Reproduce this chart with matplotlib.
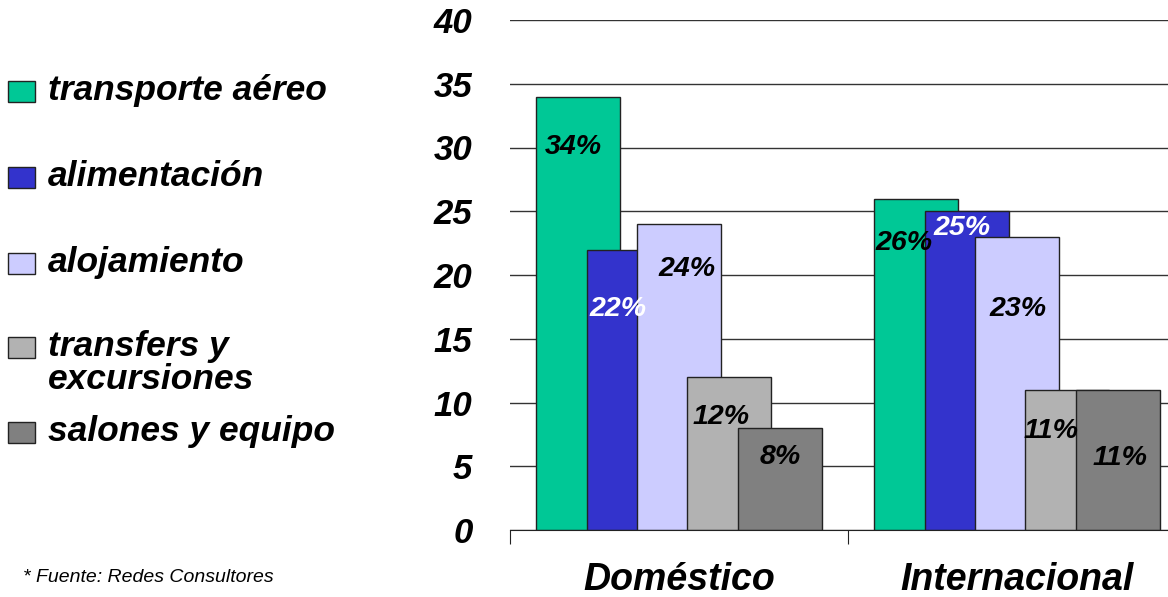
import numpy as np
import matplotlib
matplotlib.use('Agg')
from matplotlib import pyplot as plt
from matplotlib.patches import Rectangle

plt.rcParams['font.family'] = ['Liberation Sans', 'DejaVu Sans']

# datos
categorias = ['Doméstico', 'Internacional']
series = ['transporte aéreo', 'alimentación', 'alojamiento',
          'transfers y\nexcursiones', 'salones y equipo']
transporte_aereo = [34, 26]
alimentacion = [22, 25]
alojamiento = [24, 23]
transfers = [12, 11]
salones = [8, 11]
valores = [transporte_aereo, alimentacion, alojamiento, transfers, salones]
etiquetas = [['34%', '26%'], ['22%', '25%'], ['24%', '23%'], ['12%', '11%'], ['8%', '11%']]
fuente = '* Fuente: Redes Consultores'

colores = ['#00C896', '#3333CC', '#CCCCFF', '#B2B2B2', '#808080']
color_texto = ['black', 'white', 'black', 'black', 'black']
# ajuste de la posicion de cada etiqueta (x en categorias, y en valor)
nudge_x = [[-0.015, -0.036], [-0.030, -0.015], [0.024, 0.003], [-0.024, -0.047], [0.003, 0.006]]
nudge_y = [[-4.0, -3.5], [-4.7, -1.3], [-3.5, -5.7], [-3.1, -3.2], [-2.3, -5.35]]

W, H = 1168, 597
fig = plt.figure(figsize=(W / 100, H / 100), dpi=100, facecolor='w')
ax = fig.add_axes([510 / W, 67 / H, 676 / W, 510 / H])

x = np.arange(len(categorias))
paso = 0.149
ancho = 0.248
for i, vals in enumerate(valores):
    pos = x + (i - 2) * paso
    ax.bar(pos, vals, ancho, color=colores[i], edgecolor='#222222',
           linewidth=1, zorder=2 + i)
    for j, v in enumerate(vals):
        ax.text(pos[j] + nudge_x[i][j], v + nudge_y[i][j], etiquetas[i][j],
                ha='center', va='center', fontsize=20.5, fontweight='bold',
                fontstyle='italic', color=color_texto[i], zorder=20)

ax.set_xlim(-0.5, 1.5)
ax.set_ylim(0, 40)
ax.set_yticks(range(0, 41, 5))
ax.yaxis.grid(True, color='#333333', linewidth=1)
ax.set_axisbelow(True)
ax.tick_params(axis='y', length=0, pad=27)
for lab in ax.get_yticklabels():
    lab.set_fontsize(25)
    lab.set_fontweight('bold')
    lab.set_fontstyle('italic')

for s in ['left', 'top', 'right']:
    ax.spines[s].set_visible(False)
ax.spines['bottom'].set_color('#222222')
ax.spines['bottom'].set_zorder(10)

ax.set_xticks([-0.5, 0.5, 1.5])
ax.set_xticklabels([])
ax.tick_params(axis='x', which='major', length=10, color='#222222')
ax.set_xticks(x, minor=True)
ax.set_xticklabels(categorias, minor=True, fontsize=27, fontweight='bold',
                   fontstyle='italic')
ax.tick_params(axis='x', which='minor', length=0, pad=23)

# leyenda dibujada a mano a la izquierda
filas_y = [91, 177, 263, 347, 432]
for i, nombre in enumerate(series):
    yc = filas_y[i]
    fig.add_artist(Rectangle((8 / W, 1 - (yc + 11) / H), 27 / W, 21 / H,
                             transform=fig.transFigure, facecolor=colores[i],
                             edgecolor='#222222', linewidth=1))
    fig.text(48 / W, 1 - (yc - 17) / H, nombre, ha='left', va='top',
             fontsize=25.5, fontweight='bold', fontstyle='italic',
             linespacing=1.0)

fig.text(23 / W, 1 - 578 / H, fuente, ha='left', va='center', fontsize=14,
         fontstyle='italic')

fig.savefig('out.png', dpi=100)
